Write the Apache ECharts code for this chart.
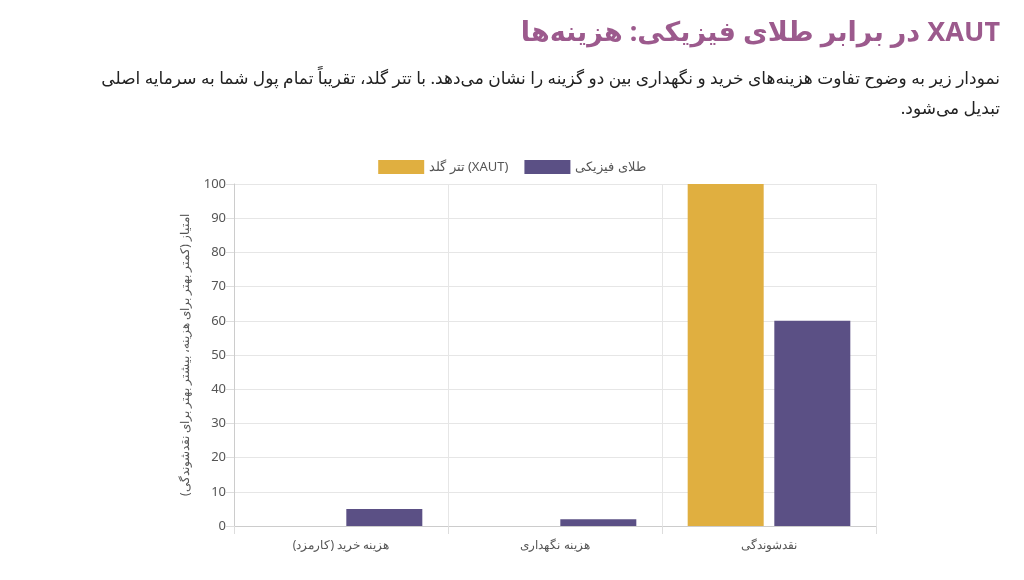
<!DOCTYPE html>
<html><head><meta charset="utf-8">
<script src="https://cdn.jsdelivr.net/npm/echarts@6/dist/echarts.min.js"></script>
<style>
body{margin:0;width:1024px;height:580px;overflow:hidden;background:#fff;font-family:"Noto Sans","DejaVu Sans",sans-serif}
#head{position:absolute;left:64px;right:24px;top:0;direction:rtl;text-align:right}
h1{margin:12px 0 0;font-size:27px;color:#9c5a8d;font-weight:bold}
p{margin:14px 0 0;font-size:17px;line-height:30px;color:#222}
#chart{position:absolute;left:0;top:0;width:1024px;height:580px}
</style></head>
<body>
<div id="chart"></div>
<div id="head">
<h1>XAUT در برابر طلای فیزیکی: هزینه‌ها</h1>
<p>نمودار زیر به وضوح تفاوت هزینه‌های خرید و نگهداری بین دو گزینه را نشان می‌دهد. با تتر گلد، تقریباً تمام پول شما به سرمایه اصلی تبدیل می‌شود.</p>
</div>
<script>
let categories = ['هزینه خرید (کارمزد)', 'هزینه نگهداری', 'نقدشوندگی']
let xautValues = [0, 0, 100]
let physicalValues = [5, 2, 60]
let seriesNames = ['تتر گلد (XAUT)', 'طلای فیزیکی']

let myChart = echarts.init(document.getElementById('chart'))
myChart.setOption({
    animation: false,
    textStyle: { fontFamily: 'Noto Sans' },
    legend: {
        top: 155, left: 'center', itemWidth: 46, itemHeight: 14, itemGap: 16,
        icon: 'rect',
        textStyle: { color: '#555', fontSize: 13 },
        data: seriesNames
    },
    grid: { left: 234, right: 148, top: 184, bottom: 54 },
    xAxis: {
        type: 'category', data: categories,
        axisLine: { lineStyle: { color: '#ccc' } },
        axisTick: { show: true, alignWithLabel: false, length: 8, lineStyle: { color: '#ddd' } },
        splitLine: { show: true, lineStyle: { color: '#e6e6e6' } },
        axisLabel: { color: '#555', fontSize: 12, margin: 14 }
    },
    yAxis: {
        type: 'value', min: 0, max: 100, interval: 10,
        name: 'امتیاز (کمتر بهتر برای هزینه، بیشتر بهتر برای نقدشوندگی)',
        nameLocation: 'middle', nameRotate: 90, nameGap: 42,
        nameTextStyle: { color: '#555', fontSize: 12 },
        axisLine: { show: true, lineStyle: { color: '#ccc' } },
        axisTick: { show: true, length: 8, lineStyle: { color: '#ddd' } },
        splitLine: { lineStyle: { color: '#e6e6e6' } },
        axisLabel: { color: '#555', fontSize: 13 }
    },
    series: [
        { name: seriesNames[0], type: 'bar', data: xautValues, barWidth: 76, barGap: '14%',
          itemStyle: { color: '#e0af40' } },
        { name: seriesNames[1], type: 'bar', data: physicalValues, barWidth: 76,
          itemStyle: { color: '#5b5085' } }
    ]
})
</script>
</body></html>
